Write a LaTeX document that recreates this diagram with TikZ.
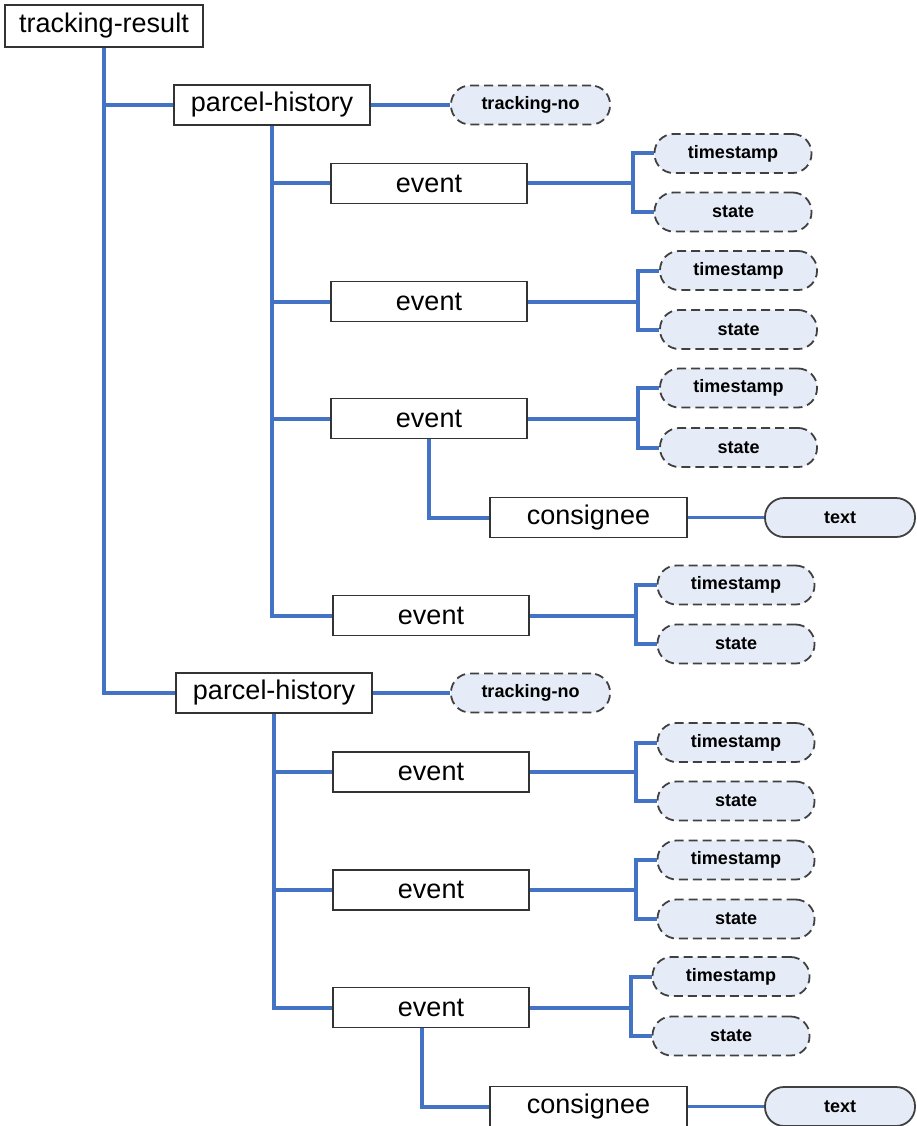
\documentclass[tikz,border=0pt]{standalone}
\usepackage{fontspec}
\setmainfont{Liberation Sans}
\definecolor{linkblue}{HTML}{4472C4}
\definecolor{pillfill}{HTML}{E6ECF7}
\begin{document}
\begin{tikzpicture}[x=1pt,y=-1pt]
\tikzset{
 elem/.style={draw=black!80, line width=1.6pt, fill=white, minimum width=196pt, minimum height=40pt, inner sep=0pt, font=\fontsize{27}{30}\selectfont},
 attr/.style={draw=black!75, dash pattern=on 9pt off 5pt, line width=1.8pt, fill=pillfill, rounded corners=19pt, minimum width=157pt, minimum height=39pt, inner sep=0pt, font=\bfseries\fontsize{18}{20}\selectfont},
 txtpill/.style={attr, solid, minimum width=150pt},
 conn/.style={draw=linkblue, line width=4pt},
}
\useasboundingbox (0,0) rectangle (916,1126);
% nodes
\node[elem, minimum width=198pt, minimum height=42pt] (tr) at (104,26) {tracking-result};
\node[elem] (ph1) at (272,105) {parcel-history};
\node[attr, minimum width=159pt] (tn1) at (530.5,105) {tracking-no};
\node[elem] (e1) at (429,183.5) {event};
\node[attr] (ts1) at (733,153.5) {timestamp};
\node[attr] (st1) at (733,212) {state};
\node[elem] (e2) at (429,301.5) {event};
\node[attr] (ts2) at (738.5,270.5) {timestamp};
\node[attr] (st2) at (738.5,329.5) {state};
\node[elem] (e3) at (429,418.5) {event};
\node[attr] (ts3) at (738.5,388) {timestamp};
\node[attr] (st3) at (738.5,447.5) {state};
\node[elem, minimum width=197pt] (c1) at (588.5,517.5) {consignee};
\node[txtpill] (t1) at (840,517.5) {text};
\node[elem] (e4) at (431,615.5) {event};
\node[attr] (ts4) at (736,585) {timestamp};
\node[attr] (st4) at (736,644) {state};
\node[elem] (ph2) at (274,693) {parcel-history};
\node[attr, minimum width=159pt] (tn2) at (530.5,693) {tracking-no};
\node[elem] (e5) at (431,772) {event};
\node[attr] (ts5) at (736,742.5) {timestamp};
\node[attr] (st5) at (736,801) {state};
\node[elem] (e6) at (431,890) {event};
\node[attr] (ts6) at (736,860) {timestamp};
\node[attr] (st6) at (736,919) {state};
\node[elem] (e7) at (431,1007.5) {event};
\node[attr] (ts7) at (731,976.5) {timestamp};
\node[attr] (st7) at (731,1036) {state};
\node[elem, minimum width=197pt] (c2) at (588.5,1106.5) {consignee};
\node[txtpill] (t2) at (840,1106.5) {text};
% connectors
\draw[conn] (tr.south) |- (ph1.west);
\draw[conn] (tr.south) |- (ph2.west);
\draw[conn] (ph1.east) -- (tn1.west);
\draw[conn] (ph2.east) -- (tn2.west);
\foreach \p/\e in {ph1/e1,ph1/e2,ph1/e3,ph1/e4,ph2/e5,ph2/e6,ph2/e7}{
  \draw[conn] (\p.south) |- (\e.west);
}
\foreach \i in {1,...,7}{
  \path (ts\i.west) ++(-21,0) coordinate (j\i);
  \draw[conn] (e\i.east) -| (j\i) -- (ts\i.west);
  \draw[conn] (e\i.east -| j\i) |- (st\i.west);
}
\draw[conn] (e3.south) |- (c1.west);
\draw[conn] ([xshift=-9pt]e7.south) |- (c2.west);
\draw[conn, line width=3pt] (c1.east) -- (t1.west);
\draw[conn, line width=3pt] (c2.east) -- (t2.west);
\end{tikzpicture}
\end{document}
